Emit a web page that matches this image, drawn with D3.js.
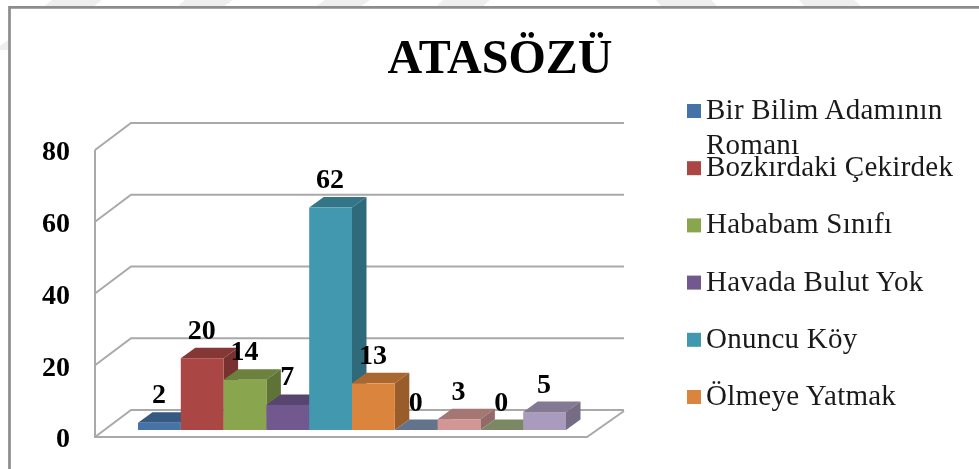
<!DOCTYPE html>
<html>
<head>
<meta charset="utf-8">
<script src="https://d3js.org/d3.v7.min.js"></script>
<style>
	html, body { margin: 0; padding: 0; background: #fff; }
	svg { display: block; filter: blur(0.4px); }
	text { font-family: "Liberation Serif", serif; fill: #000; }
</style>
</head>
<body>
<div id="chart"></div>
<script>
// Data
var title = "ATASÖZÜ";
var values = [2, 20, 14, 7, 62, 13, 0, 3, 0, 5];
var yTicks = [0, 20, 40, 60, 80];
var legendNames = ["Bir Bilim Adamının", "Bozkırdaki Çekirdek", "Hababam Sınıfı", "Havada Bulut Yok", "Onuncu Köy", "Ölmeye Yatmak"];

var barColors = ["#4572a7", "#aa4643", "#89a54e", "#71588f", "#4198af", "#db843d", "#7f94b4", "#d29795", "#9db07f", "#a99bbd"];

var w = 979;
var h = 469;

// Size of the fake 3d depth
var depthX = 36;
var depthY = 27;
var barDepthX = 14.5;
var barDepthY = 10.5;
var barBase = 430;
var wallX = 95;

var y = d3.scaleLinear().domain([0, 80]).range([437, 150]);
var x = d3.scaleBand().domain(d3.range(values.length)).range([138, 566]);

var svg = d3.select("#chart")
	.append("svg")
	.attr("width", w)
	.attr("height", h);

// Watermark showing through above the frame
// TODO: only the bits that stick out are drawn, the rest is hidden by the white page.
var stripes = [
	"M43,7L52,0H102L93,7Z",
	"M177,7L185,0H233L223,7Z",
	"M315,7L325,0H370L360,7Z",
	"M436,7L443,0H490L482,7Z",
	"M656,0H711L718,7H662Z",
	"M799,0H854L862,7H805Z",
	"M0,50V46L8,40V50Z"
];
svg.selectAll("path.stripe")
	.data(stripes)
	.enter()
	.append("path")
	.attr("class", "stripe")
	.attr("d", function(d) { return d; })
	.style("fill", "#eeeeee");

// Frame of the pasted chart
svg.append("path")
	.attr("d", "M9.5,469V7.3H979")
	.style("fill", "none")
	.style("stroke", "#8c8c8c")
	.style("stroke-width", 2.7);

// Title
svg.append("text")
	.attr("x", 500)
	.attr("y", 73)
	.attr("text-anchor", "middle")
	.style("font-size", "48px")
	.style("font-weight", "bold")
	.text(title);

// Walls: gridlines on the back, slanted pieces on the side
var grid = svg.append("g")
	.style("fill", "none")
	.style("stroke", "#a9a9a9")
	.style("stroke-width", 2);

grid.selectAll("path")
	.data(yTicks)
	.enter()
	.append("path")
	.attr("d", function(d) {
		return "M" + wallX + "," + y(d) + "L" + (wallX + depthX) + "," + (y(d) - depthY) + "H624";
	});

grid.append("path")
	.attr("d", "M" + wallX + "," + y(80) + "V" + y(0) + "H587L624," + (y(0) - depthY + 1));

// Bars, left to right so the next one covers the side of the last
var bars = svg.selectAll("g.bar")
	.data(values)
	.enter()
	.append("g")
	.attr("class", "bar");

function barTop(d) { return barBase - (y(0) - y(d)); }

// top face
bars.append("path")
	.attr("d", function(d, i) {
		var l = x(i), r = l + x.bandwidth(), t = barTop(d);
		return "M" + l + "," + t + "L" + (l + barDepthX) + "," + (t - barDepthY) + "H" + (r + barDepthX) + "L" + r + "," + t + "Z";
	})
	.style("fill", function(d, i) { return d3.color(barColors[i]).darker(0.7); });

// side face
bars.append("path")
	.attr("d", function(d, i) {
		var r = x(i) + x.bandwidth(), t = barTop(d);
		return "M" + r + "," + t + "L" + (r + barDepthX) + "," + (t - barDepthY) + "V" + (barBase - barDepthY) + "L" + r + "," + barBase + "Z";
	})
	.style("fill", function(d, i) { return d3.color(barColors[i]).darker(1); });

// front face
bars.append("rect")
	.attr("x", function(d, i) { return x(i); })
	.attr("y", barTop)
	.attr("width", x.bandwidth())
	.attr("height", function(d) { return barBase - barTop(d); })
	.style("fill", function(d, i) { return barColors[i]; });

// Value labels go last, they sit on top of the bars
svg.selectAll("text.value")
	.data(values)
	.enter()
	.append("text")
	.attr("class", "value")
	.attr("x", function(d, i) { return x(i) + x.bandwidth() / 2 - 0.5; })
	.attr("y", function(d) { return barTop(d) - barDepthY - 9; })
	.attr("text-anchor", "middle")
	.style("font-size", "28px")
	.style("font-weight", "bold")
	.text(function(d) { return d; });

// Y axis labels
var yAxis = d3.axisLeft(y).tickValues(yTicks).tickSize(0).tickPadding(0);
svg.append("g")
	.attr("transform", "translate(70,1)")
	.call(yAxis)
	.call(function(g) { g.select(".domain").remove(); })
	.selectAll("text")
	.style("font-family", "Liberation Serif")
	.style("font-size", "28px")
	.style("font-weight", "bold")
	.style("fill", "#000");

// Legend
var legendY = d3.scalePoint().domain(d3.range(legendNames.length)).range([111, 397]);

var legend = svg.selectAll("g.legend")
	.data(legendNames)
	.enter()
	.append("g")
	.attr("class", "legend")
	.attr("transform", function(d, i) { return "translate(687," + legendY(i) + ")"; });

legend.append("rect")
	.attr("y", -7)
	.attr("width", 14)
	.attr("height", 14)
	.style("fill", function(d, i) { return barColors[i]; });

legend.append("text")
	.attr("x", 19)
	.attr("y", 8)
	.style("font-size", "29px")
	.style("letter-spacing", "0.25px")
	.style("fill", "#1a1a1a")
	.text(function(d) { return d; });

// Wrapped second line of the first entry
svg.append("text")
	.attr("x", 706)
	.attr("y", 154)
	.style("font-size", "29px")
	.style("letter-spacing", "0.25px")
	.style("fill", "#1a1a1a")
	.text("Romanı");
</script>
</body>
</html>
